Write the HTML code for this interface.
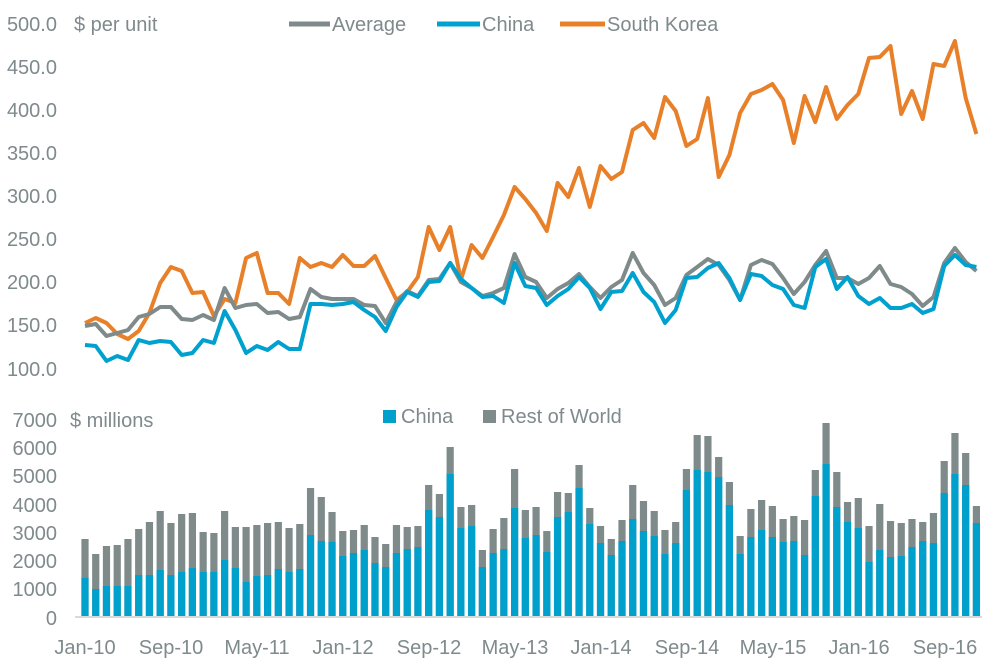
<!DOCTYPE html>
<html><head><meta charset="utf-8"><style>
html,body{margin:0;padding:0;background:#fff;width:1008px;height:672px;overflow:hidden}
svg text{font-family:"Liberation Sans",sans-serif;fill:#7f8a8c;font-size:20px}
</style></head><body>
<svg id="s" width="1008" height="672" xmlns="http://www.w3.org/2000/svg">
<g text-anchor="end">
<text x="57" y="31">500.0</text><text x="57" y="74">450.0</text><text x="57" y="117">400.0</text>
<text x="57" y="160">350.0</text><text x="57" y="203">300.0</text><text x="57" y="246">250.0</text>
<text x="57" y="289">200.0</text><text x="57" y="332">150.0</text><text x="57" y="376">100.0</text>
<text x="57" y="427">7000</text><text x="57" y="455">6000</text><text x="57" y="483">5000</text>
<text x="57" y="512">4000</text><text x="57" y="540">3000</text><text x="57" y="568">2000</text>
<text x="57" y="596">1000</text><text x="57" y="625">0</text>
</g>
<text x="74" y="31">$ per unit</text>
<text x="70" y="427">$ millions</text>
<g text-anchor="middle">
<text x="85" y="654">Jan-10</text><text x="171" y="654">Sep-10</text><text x="257" y="654">May-11</text>
<text x="343" y="654">Jan-12</text><text x="429" y="654">Sep-12</text><text x="515" y="654">May-13</text>
<text x="601" y="654">Jan-14</text><text x="687" y="654">Sep-14</text><text x="773" y="654">May-15</text>
<text x="859" y="654">Jan-16</text><text x="945" y="654">Sep-16</text>
</g>
<line x1="289" y1="24" x2="330" y2="24" stroke="#7f8a8a" stroke-width="5"/>
<text x="332" y="31">Average</text>
<line x1="437" y1="24" x2="480" y2="24" stroke="#00a0cf" stroke-width="5"/>
<text x="482" y="31">China</text>
<line x1="560" y1="24" x2="605" y2="24" stroke="#e8802a" stroke-width="5"/>
<text x="607" y="31">South Korea</text>
<rect x="383" y="410" width="13" height="13" fill="#00a0cc"/>
<text x="401" y="423">China</text>
<rect x="483" y="410" width="13" height="13" fill="#7f8a8a"/>
<text x="501" y="423">Rest of World</text>
<g id="bars"></g>
<line x1="75" y1="617" x2="982" y2="617" stroke="#d9d9d9" stroke-width="2"/>
<g id="lines"></g>
</svg>
<script>
var T=[539,554,546,545,539,529,522,511,523,514,513,532,533,511,527,527,525,523,522,528,524,488,497,512,531,530,525,537,544,525,527,526,485,494,447,507,505,550,529,518,469,510,507,531,492,493,465,508,526,539,520,485,501,511,530,522,469,435,436,457,482,536,509,500,506,519,516,520,470,423,472,502,498,526,504,521,523,519,522,513,461,433,453,506];
var B=[578,589,586,586,586,575,575,570,575,572,568,572,572,560,568,582,576,575,569,572,569,535,541,542,556,553,550,563,567,553,549,547,510,517,474,528,526,567,553,549,508,538,535,552,517,512,488,524,543,555,541,519,531,536,554,543,490,470,472,477,505,554,537,530,537,542,541,555,496,464,507,522,528,562,550,557,556,547,541,543,493,474,485,523];
var SK=[323,318,323,334,339,331,313,283,267,271,293,292,316,299,303,258,253,293,293,304,258,267,263,267,255,266,266,256,278,300,292,277,227,250,227,280,245,258,237,215,187,199,213,231,183,197,168,207,166,179,172,130,123,138,97,111,146,139,98,177,155,113,94,90,84,100,143,96,122,87,119,105,94,58,57,46,114,91,119,64,66,41,98,134];
var AV=[326,324,336,333,330,317,314,307,307,319,320,315,320,288,308,305,304,313,312,319,317,289,297,299,299,299,305,306,323,302,291,296,280,279,263,282,288,296,293,288,254,277,282,298,289,283,274,287,298,287,280,253,273,285,305,298,275,267,259,265,280,300,265,260,264,278,294,282,265,251,278,278,284,278,266,284,287,294,306,297,263,248,262,271];
var CN=[345,346,361,356,360,340,343,341,342,355,353,340,343,311,330,353,346,350,342,349,349,304,304,305,304,302,310,317,331,307,292,297,282,281,263,279,288,297,296,303,263,286,288,305,296,289,277,288,309,292,291,273,292,302,323,310,278,277,268,263,278,300,274,276,285,289,305,308,267,259,289,277,296,304,298,308,308,304,313,309,266,255,265,267];
var ns="http://www.w3.org/2000/svg",bg=document.getElementById('bars'),lg=document.getElementById('lines');
function X(i){return 85+i*10.74;}
for(var i=0;i<84;i++){
 var r=document.createElementNS(ns,'rect');r.setAttribute('x',X(i)-3.6);r.setAttribute('y',T[i]);r.setAttribute('width',7.2);r.setAttribute('height',616-T[i]);r.setAttribute('fill','#7f8a8a');bg.appendChild(r);
 r=document.createElementNS(ns,'rect');r.setAttribute('x',X(i)-3.6);r.setAttribute('y',B[i]);r.setAttribute('width',7.2);r.setAttribute('height',616-B[i]);r.setAttribute('fill','#00a0cc');bg.appendChild(r);
}
function line(a,c){var p=a.map(function(v,i){return X(i).toFixed(1)+','+v}).join(' ');
 var l=document.createElementNS(ns,'polyline');l.setAttribute('points',p);l.setAttribute('fill','none');l.setAttribute('stroke',c);l.setAttribute('stroke-width','4');l.setAttribute('stroke-linejoin','round');lg.appendChild(l);}
line(SK,'#e8802a');line(AV,'#7f8a8a');line(CN,'#00a0cf');
</script>
</body></html>
